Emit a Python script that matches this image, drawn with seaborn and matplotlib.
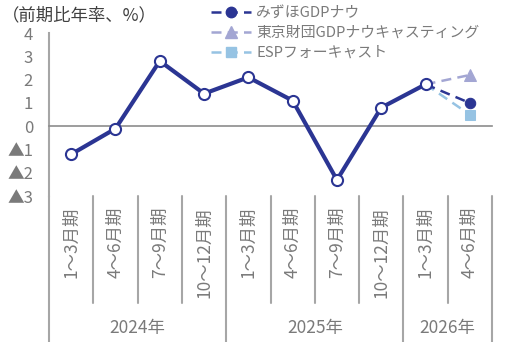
import matplotlib
matplotlib.use("Agg")
import matplotlib.pyplot as plt
import matplotlib.transforms as mtransforms
from matplotlib.lines import Line2D
import seaborn as sns
import pandas as pd
import numpy as np

# data
quarters = ["1～3月期", "4～6月期", "7～9月期", "10～12月期",
            "1～3月期", "4～6月期", "7～9月期", "10～12月期",
            "1～3月期", "4～6月期"]
years = ["2024年", "2025年", "2026年"]
year_len = [4, 4, 2]
actual = [-1.2, -0.1, 2.8, 1.4, 2.1, 1.1, -2.3, 0.8, 1.8]
mizuho = [1.8, 1.0]
zaidan = [1.8, 2.2]
esp = [1.8, 0.5]
ytick_vals = [-3, -2, -1, 0, 1, 2, 3, 4]
ytick_labels = ["▲3", "▲2", "▲1", "0", "1", "2", "3", "4"]

navy = "#2B3593"
lav = "#A3A6D3"
lblue = "#96C3E3"
grey_txt = "#7A7A7A"
grey_line = "#A6A6A6"

sns.set_style("white")
plt.rcParams["font.family"] = ["Noto Sans CJK JP", "DejaVu Sans"]

W, H = 518, 342
fig = plt.figure(figsize=(W / 100, H / 100), dpi=100)
left_px, right_px, top_px, bot_px = 49, 492, 33, 196.3
ax = fig.add_axes([left_px / W, 1 - bot_px / H, (right_px - left_px) / W, (bot_px - top_px) / H])

n = len(quarters)
df_act = pd.DataFrame({"x": np.arange(len(actual)), "y": actual})
df_fc = pd.DataFrame({"x": [n - 2, n - 1]})
df_fc["mizuho"] = mizuho
df_fc["zaidan"] = zaidan
df_fc["esp"] = esp

sns.lineplot(data=df_fc, x="x", y="esp", ax=ax, color=lblue, lw=1.8, ls=(0, (4, 2.5)),
             marker="s", markevery=[1], ms=7, mec=lblue, zorder=2)
sns.lineplot(data=df_fc, x="x", y="zaidan", ax=ax, color=lav, lw=1.8, ls=(0, (4, 2.5)),
             marker="^", markevery=[1], ms=8, mec=lav, zorder=2)
sns.lineplot(data=df_fc, x="x", y="mizuho", ax=ax, color=navy, lw=1.8, ls=(0, (4, 2.5)),
             marker="o", markevery=[1], ms=7.5, mec=navy, zorder=3)
sns.lineplot(data=df_act, x="x", y="y", ax=ax, color=navy, lw=3,
             marker="o", ms=8, mfc="white", mec=navy, mew=1.5, zorder=4)

ax.set_xlim(-0.5, n - 0.5)
ax.set_ylim(-3, 4)
ax.set_xlabel("")
ax.set_ylabel("")
for s in ["top", "right"]:
    ax.spines[s].set_visible(False)
ax.spines["bottom"].set_position(("data", 0))
ax.spines["bottom"].set_color("#8C8C8C")
ax.spines["bottom"].set_linewidth(1.2)
ax.spines["left"].set_color(grey_line)
ax.spines["left"].set_linewidth(1.5)
ax.set_xticks(np.arange(-0.5, n, 1.0))
ax.set_xticklabels([])
ax.tick_params(axis="x", direction="out", length=4, width=1.2, color="#8C8C8C")
ax.set_yticks(ytick_vals)
ax.set_yticklabels(ytick_labels)
ax.tick_params(axis="y", length=0, pad=11.5, labelsize=12, labelcolor=grey_txt)

# category table under the plot
tr = mtransforms.blended_transform_factory(ax.transData, fig.transFigure)
fy = lambda px: 1 - px / H
for i, q in enumerate(quarters):
    ax.text(i, fy(207), q, rotation=90, ha="center", va="top", fontsize=12.5,
            color=grey_txt, transform=tr)
bounds = np.cumsum([0] + year_len) - 0.5
for i in range(n + 1):
    xb = i - 0.5
    bottom = H if xb in bounds else 303
    ax.add_line(Line2D([xb, xb], [fy(bot_px), fy(bottom)], transform=tr, color=grey_line,
                       lw=1.5, clip_on=False))
for k, yname in enumerate(years):
    cx = (bounds[k] + bounds[k + 1]) / 2
    ax.text(cx, fy(328), yname, ha="center", va="center", fontsize=12.5,
            color=grey_txt, transform=tr)

fig.text(2 / W, fy(15), "（前期比年率、%）", ha="left", va="center", fontsize=12.5, color="#404040")

handles = [
    Line2D([], [], color=navy, lw=1.8, ls=(0, (4, 2.5)), marker="o", ms=7.5),
    Line2D([], [], color=lav, lw=1.8, ls=(0, (4, 2.5)), marker="^", ms=8),
    Line2D([], [], color=lblue, lw=1.8, ls=(0, (4, 2.5)), marker="s", ms=7),
]
labels = ["みずほGDPナウ", "東京財団GDPナウキャスティング", "ESPフォーキャスト"]
leg = fig.legend(handles, labels, loc="upper left", bbox_to_anchor=(211 / W, 1 - 6 / H),
                 frameon=False, fontsize=10.7, handlelength=2.7, handletextpad=0.35,
                 labelspacing=0.4, borderpad=0, borderaxespad=0, numpoints=1)
for t in leg.get_texts():
    t.set_color(grey_txt)

fig.savefig("out.png", dpi=100)
